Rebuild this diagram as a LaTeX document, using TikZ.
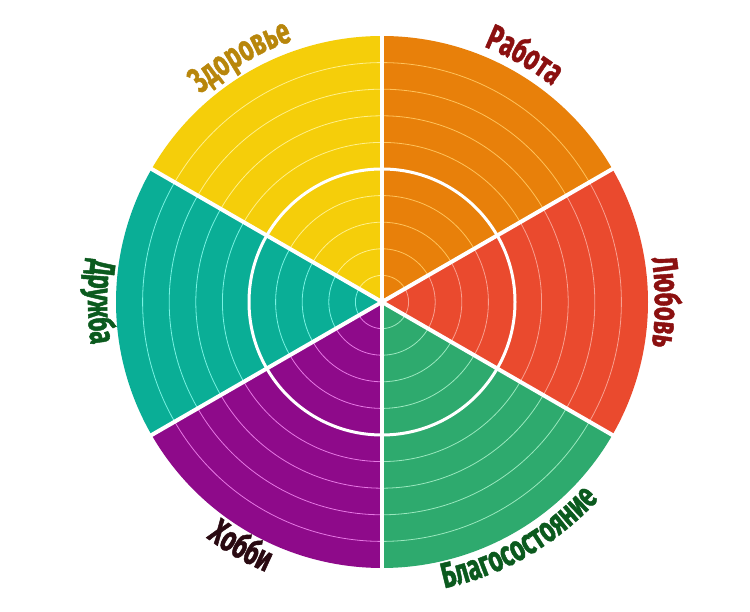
\documentclass[tikz,border=0pt]{standalone}
\usepackage{fontspec}
\usetikzlibrary{decorations.text}
\newfontfamily\labfamily[FakeStretch=0.66, FakeBold=1.2]{Fira Sans}
\newcommand\lbf{\labfamily\bfseries\fontsize{36pt}{40pt}\selectfont}
\definecolor{cOr}{HTML}{E8800A}
\definecolor{lOr}{HTML}{FFC25A}
\definecolor{cRe}{HTML}{EA4A2E}
\definecolor{lRe}{HTML}{F8A090}
\definecolor{cGr}{HTML}{2EAA6E}
\definecolor{lGr}{HTML}{9AE8BE}
\definecolor{cPu}{HTML}{8E0A8A}
\definecolor{lPu}{HTML}{E678E4}
\definecolor{cTe}{HTML}{0AAE96}
\definecolor{lTe}{HTML}{78F2E2}
\definecolor{cYe}{HTML}{F5CE0A}
\definecolor{lYe}{HTML}{FFF08A}
\definecolor{tRed}{HTML}{8B1010}
\definecolor{tGreen}{HTML}{0B5A1E}
\definecolor{tDark}{HTML}{2A0A12}
\definecolor{tGold}{HTML}{B8860B}
\tikzset{
  sectorline/.style={line width=0.8pt},
  divider/.style={white, line width=4pt},
  lab/.style 2 args={decorate, decoration={text along path, text={|\lbf|#1}, text align=center, text color=#2}}
}
\begin{document}
\begin{tikzpicture}[x=1pt,y=1pt]
\useasboundingbox (0,0) rectangle (750,612);
\fill[white] (0,0) rectangle (750,612);
\begin{scope}[shift={(382,310)}]
\foreach \a/\b/\f/\l in {30/90/cOr/lOr, -30/30/cRe/lRe, -90/-30/cGr/lGr, 210/270/cPu/lPu, 150/210/cTe/lTe, 90/150/cYe/lYe} {
  \fill[\f] (0,0) -- (\a:266pt) arc[start angle=\a, end angle=\b, radius=266pt] -- cycle;
  \foreach \k in {1,2,3,4,6,7,8,9}
    \draw[\l, sectorline] (\a:\k*26.6pt) arc[start angle=\a, end angle=\b, radius=\k*26.6pt];
}
\draw[white, line width=3pt] (0,0) circle[radius=133pt];
\foreach \a in {30,90,150,210,270,330}
  \draw[divider] (0,0) -- (\a:267pt);
% labels, clockwise (tops outward)
\path[lab={Работа}{tRed}] (105:275pt) arc[start angle=105, end angle=15, radius=275pt];
\path[lab={Любовь}{tRed}] (45:273pt) arc[start angle=45, end angle=-45, radius=273pt];
\path[lab={Здоровье}{tGold}] (165:276pt) arc[start angle=165, end angle=75, radius=276pt];
% labels, counter-clockwise (tops inward)
\path[lab={Благосостояние}{tGreen}] (-105:293pt) arc[start angle=-105, end angle=-15, radius=293pt];
\path[lab={Хобби}{tDark}] (-165:294pt) arc[start angle=-165, end angle=-75, radius=294pt];
\path[lab={Дружба}{tGreen}] (135:294pt) arc[start angle=135, end angle=225, radius=294pt];
\end{scope}
\end{tikzpicture}
\end{document}
